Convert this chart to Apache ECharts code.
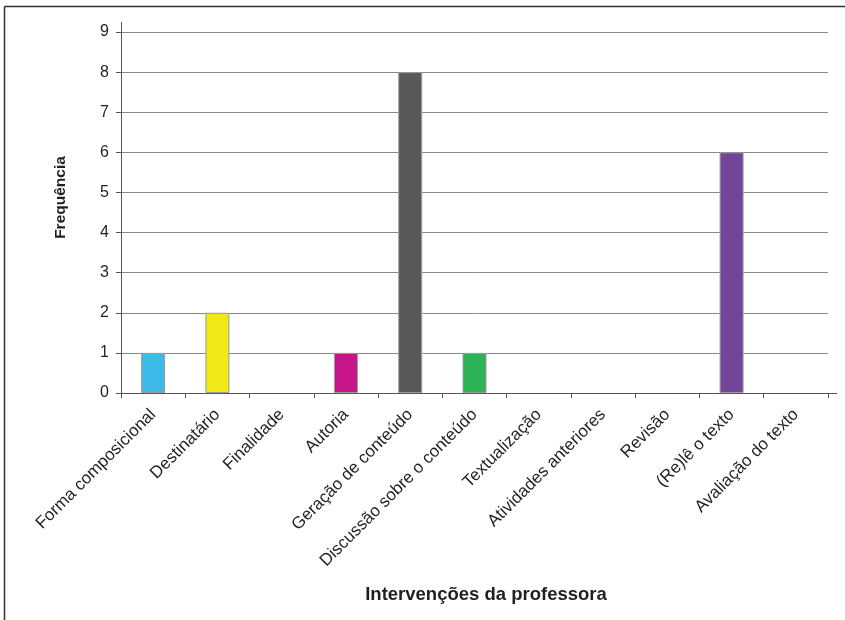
<!DOCTYPE html>
<html>
<head>
<meta charset="utf-8">
<script src="https://cdn.jsdelivr.net/npm/echarts@6/dist/echarts.min.js"></script>
<style>
  html, body { margin: 0; padding: 0; background: #fff; }
  #chart { width: 845px; height: 620px; }
</style>
</head>
<body>
<div id="chart"></div>
<script>
// Categories of teacher interventions and their frequencies
const categories = [
  'Forma composicional', 'Destinatário', 'Finalidade', 'Autoria',
  'Geração de conteúdo', 'Discussão sobre o conteúdo', 'Textualização',
  'Atividades anteriores', 'Revisão', '(Re)lê o texto', 'Avaliação do texto'
];
const frequencies = [1, 2, 0, 1, 8, 1, 0, 0, 0, 6, 0];
const barColors = [
  '#3EBAE9', '#F2E817', '#9a9a9a', '#C7158A', '#58595B',
  '#2DB356', '#9a9a9a', '#9a9a9a', '#9a9a9a', '#744498', '#9a9a9a'
];
const yTicks = [0, 1, 2, 3, 4, 5, 6, 7, 8, 9];

const textColor = '#231F20';
const chart = echarts.init(document.getElementById('chart'), null, { renderer: 'canvas' });

chart.setOption({
  animation: false,
  backgroundColor: '#fff',
  grid: { left: 121, right: 17, top: 32, bottom: 227, containLabel: false },
  xAxis: {
    type: 'category',
    data: categories,
    boundaryGap: true,
    name: 'Intervenções da professora',
    nameLocation: 'middle',
    nameGap: 192,
    nameTextStyle: {
      fontFamily: 'Liberation Sans, Arial, sans-serif',
      fontWeight: 'bold', fontSize: 18.5, color: textColor,
      padding: [0, 0, 0, 23]
    },
    axisLine: { show: true, lineStyle: { color: '#555', width: 1 } },
    axisTick: { show: true, alignWithLabel: false, length: 5, lineStyle: { color: '#555' } },
    axisLabel: {
      interval: 0, rotate: 45, margin: 19,
      fontFamily: 'Liberation Sans, Arial, sans-serif',
      fontSize: 17, color: textColor
    },
    splitLine: { show: false }
  },
  yAxis: {
    type: 'value',
    min: yTicks[0],
    max: yTicks[yTicks.length - 1],
    interval: 1,
    name: 'Frequência',
    nameLocation: 'middle',
    nameGap: 52,
    nameRotate: 90,
    nameTextStyle: {
      fontFamily: 'Liberation Sans, Arial, sans-serif',
      fontWeight: 'bold', fontSize: 15.5, color: textColor,
      padding: [0, 0, 0, 30]
    },
    axisLine: { show: true, lineStyle: { color: '#555', width: 1 } },
    axisTick: { show: true, length: 5, lineStyle: { color: '#555' } },
    axisLabel: {
      margin: 12,
      fontFamily: 'Liberation Sans, Arial, sans-serif',
      fontSize: 16, color: textColor
    },
    splitLine: { show: true, lineStyle: { color: '#8a8a8a', width: 1 } }
  },
  series: [{
    type: 'bar',
    barWidth: 24,
    data: frequencies.map((v, i) => ({
      value: v,
      itemStyle: { color: barColors[i], borderWidth: v === 0 ? 0 : 1 }
    })),
    itemStyle: { borderColor: '#9c9c9c', borderWidth: 1 }
  }]
});

// Frame lines and short axis-line overhangs around the plot area
const rect = chart.getModel().getComponent('grid').coordinateSystem.getRect();
const axisStroke = { stroke: '#555', lineWidth: 1 };
chart.setOption({
  graphic: [
    { type: 'line', shape: { x1: 4.5, y1: 6.5, x2: 845, y2: 6.5 }, style: { stroke: '#333', lineWidth: 1.5 } },
    { type: 'line', shape: { x1: 4.5, y1: 6.5, x2: 4.5, y2: 620 }, style: { stroke: '#333', lineWidth: 1.5 } },
    { type: 'line', shape: { x1: rect.x + 0.5, y1: rect.y - 10, x2: rect.x + 0.5, y2: rect.y }, style: axisStroke },
    { type: 'line', shape: { x1: rect.x + rect.width, y1: rect.y + rect.height + 0.5, x2: rect.x + rect.width + 9, y2: rect.y + rect.height + 0.5 }, style: axisStroke }
  ]
});
</script>
</body>
</html>
